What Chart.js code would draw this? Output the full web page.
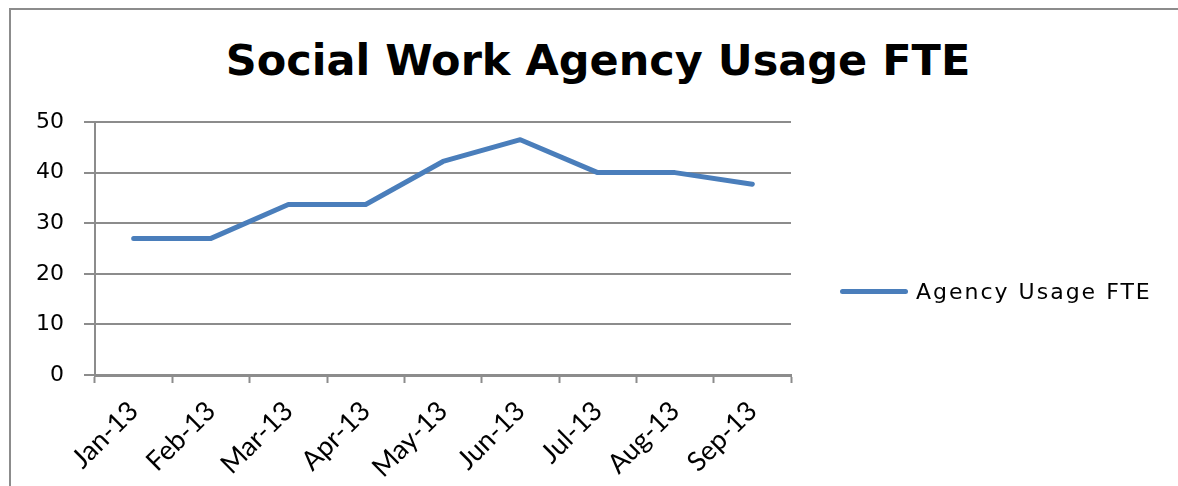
<!DOCTYPE html>
<html>
<head>
<meta charset="utf-8">
<script src="https://cdn.jsdelivr.net/npm/chart.js@4.4.1/dist/chart.umd.min.js"></script>
<style>
  body { margin: 0; background: #fff; }
  #wrap { position: relative; width: 1178px; height: 486px; overflow: hidden; }
  #frame { position: absolute; left: 9px; top: 8px; width: 1300px; height: 600px;
           border-left: 2px solid #8c8c8c; border-top: 2px solid #8c8c8c; }
  #title { position: absolute; left: 18px; width: 1160px; top: 35px; line-height: 50px; text-align: center;
           font-family: "DejaVu Sans", sans-serif; font-weight: bold; font-size: 43px; color: #000; }
  #legend { position: absolute; left: 840px; top: 279px; display: flex; align-items: center;
            font: 22px "DejaVu Sans", sans-serif; letter-spacing: 2px; color: #000; }
  #legend .swatch { width: 68px; height: 5px; border-radius: 3px; margin-right: 8px; }
  canvas { position: absolute; left: 0; top: 0; }
</style>
</head>
<body>
<div id="wrap">
  <div id="frame"></div>
  <div id="title">Social Work Agency Usage FTE</div>
  <canvas id="chart" width="1178" height="486"></canvas>
  <div id="legend"><span class="swatch"></span><span id="legendText"></span></div>
</div>
<script>
const months = ["Jan-13", "Feb-13", "Mar-13", "Apr-13", "May-13", "Jun-13", "Jul-13", "Aug-13", "Sep-13"];
const agencyFte = [27, 27, 33.7, 33.7, 42.2, 46.5, 40, 40, 37.7];
const yTicks = [0, 10, 20, 30, 40, 50];

const seriesName = "Agency Usage FTE";
const lineColor = "#4a7ebb";
const axisGray = "#8c8c8c";

document.getElementById("legendText").textContent = seriesName;
document.querySelector("#legend .swatch").style.background = lineColor;

const ctx = document.getElementById("chart");
const chart = new Chart(ctx, {
  type: "line",
  data: {
    labels: months,
    datasets: [{
      label: seriesName,
      data: agencyFte,
      borderColor: lineColor,
      borderWidth: 5,
      borderCapStyle: "round",
      borderJoinStyle: "round",
      pointRadius: 0,
      tension: 0,
      fill: false
    }]
  },
  options: {
    responsive: false,
    animation: false,
    layout: { padding: { left: 0, top: 122, right: 387, bottom: 0 } },
    plugins: {
      legend: { display: false },
      title: { display: false },
      tooltip: { enabled: false }
    },
    scales: {
      x: {
        offset: true,
        grid: { offset: true, drawOnChartArea: false, tickLength: 8, tickWidth: 2, tickColor: axisGray },
        border: { color: axisGray, width: 3 },
        ticks: {
          minRotation: 45, maxRotation: 45, padding: 12,
          color: "#000", font: { family: "Lato", size: 27 }
        },
        afterFit: s => { s.height = 111; }
      },
      y: {
        min: yTicks[0],
        max: yTicks[yTicks.length - 1],
        afterBuildTicks: s => { s.ticks = yTicks.map(v => ({ value: v })); },
        grid: { color: axisGray, lineWidth: 2, tickLength: 11 },
        border: { color: axisGray, width: 2 },
        ticks: {
          padding: 20,
          color: "#000", font: { family: "DejaVu Sans", size: 22 }
        },
        afterFit: s => { s.width = 95; }
      }
    }
  }
});
</script>
</body>
</html>
